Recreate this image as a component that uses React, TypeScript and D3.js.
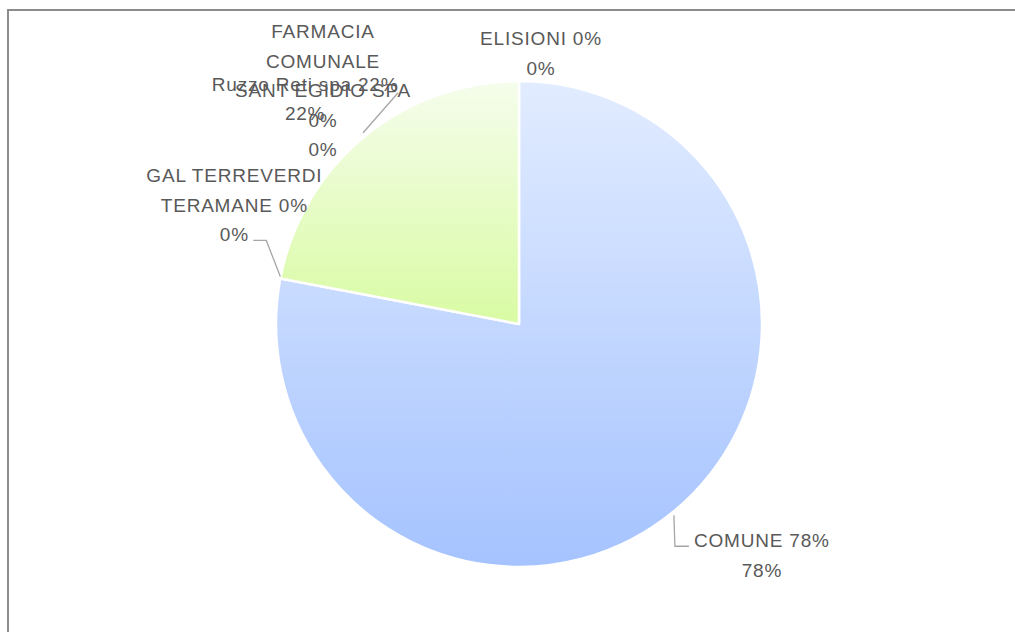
import React from 'react';
import * as d3 from 'd3';

// categories and values (share of total)
const categories = ['COMUNE', 'GAL TERREVERDI TERAMANE', 'Ruzzo Reti spa', 'FARMACIA COMUNALE SANT EGIDIO SPA', 'ELISIONI'];
const values = [0.78, 0, 0.22, 0, 0];
// label text as wrapped in the picture
const labelLines = [
  ['COMUNE 78%', '78%'],
  ['GAL TERREVERDI', 'TERAMANE 0%', '0%'],
  ['Ruzzo Reti spa 22%', '22%'],
  ['FARMACIA', 'COMUNALE', 'SANT EGIDIO SPA', '0%', '0%'],
  ['ELISIONI 0%', '0%'],
];
const gradients = [
  ['#E2ECFF', '#A5C3FF'],
  ['#E2ECFF', '#A5C3FF'],
  ['#F5FDEC', '#D9FBA3'],
  ['#E2ECFF', '#A5C3FF'],
  ['#E2ECFF', '#A5C3FF'],
];

// label placement relative to the slice's outer mid point
const labelPos = [
  { dx: 88, dy: 36, leader: [[0, 4], [1, 35], [15, 35]] },
  { dx: -46, dy: -96, leader: [[0, -2], [-14, -38], [-27, -38]] },
  { dx: -59, dy: -46, leader: [[-1, -4], [34, -44]] },
  { dx: -196, dy: -43, leader: null },
  { dx: 22, dy: -36, leader: null },
];

const width = 1015;
const height = 632;
const cx = 519;
const cy = 324;
const radius = 243;
const lineH = 29.5;

export default function App() {
  const data = categories.map((c, i) => ({ name: c, value: values[i], i }));
  const pie = d3.pie<any>().sort(null).value(d => d.value).startAngle(0).endAngle(Math.PI * 2);
  const arcs = pie(data);
  const arc = d3.arc<any>().innerRadius(0).outerRadius(radius);
  const outer = d3.arc<any>().innerRadius(radius).outerRadius(radius);
  const line = d3.line();

  return (
    <div style={{ position: 'fixed', left: 0, top: 0 }}>
      <svg width={width} height={height} style={{ display: 'block' }}>
        <defs>
          {gradients.map((g, i) => (
            <linearGradient key={i} id={`g${i}`} x1="0" y1="0" x2="0" y2="1">
              <stop offset="0%" stopColor={g[0]} />
              <stop offset="100%" stopColor={g[1]} />
            </linearGradient>
          ))}
        </defs>
        <rect x={8} y={10} width={width + 20} height={height + 20} fill="#fff" stroke="#8c8c8c" strokeWidth={2} />
        <g transform={`translate(${cx},${cy})`}>
          {arcs.filter(a => a.value > 0).map(a => (
            <path key={a.data.name} d={arc(a) as string} fill={`url(#g${a.data.i})`} stroke="#fff" strokeWidth={2.5} strokeLinejoin="round" />
          ))}
          {arcs.map(a => {
            const [px, py] = outer.centroid(a);
            const lp = labelPos[a.data.i];
            return (
              <g key={'l' + a.data.name}>
                {lp.leader && (
                  <path d={line(lp.leader.map(([x, y]) => [px + x, py + y]) as [number, number][]) as string}
                    fill="none" stroke="#a6a6a6" strokeWidth={1.3} />
                )}
                <text x={px + lp.dx} y={py + lp.dy} textAnchor="middle" fill="#595959"
                  style={{ fontFamily: '"Liberation Sans", Arial, sans-serif', fontSize: 19, letterSpacing: 0.8 }}>
                  {labelLines[a.data.i].map((t, k) => (
                    <tspan key={k} x={px + lp.dx} dy={k === 0 ? 0 : lineH}>{t}</tspan>
                  ))}
                </text>
              </g>
            );
          })}
        </g>
      </svg>
    </div>
  );
}
